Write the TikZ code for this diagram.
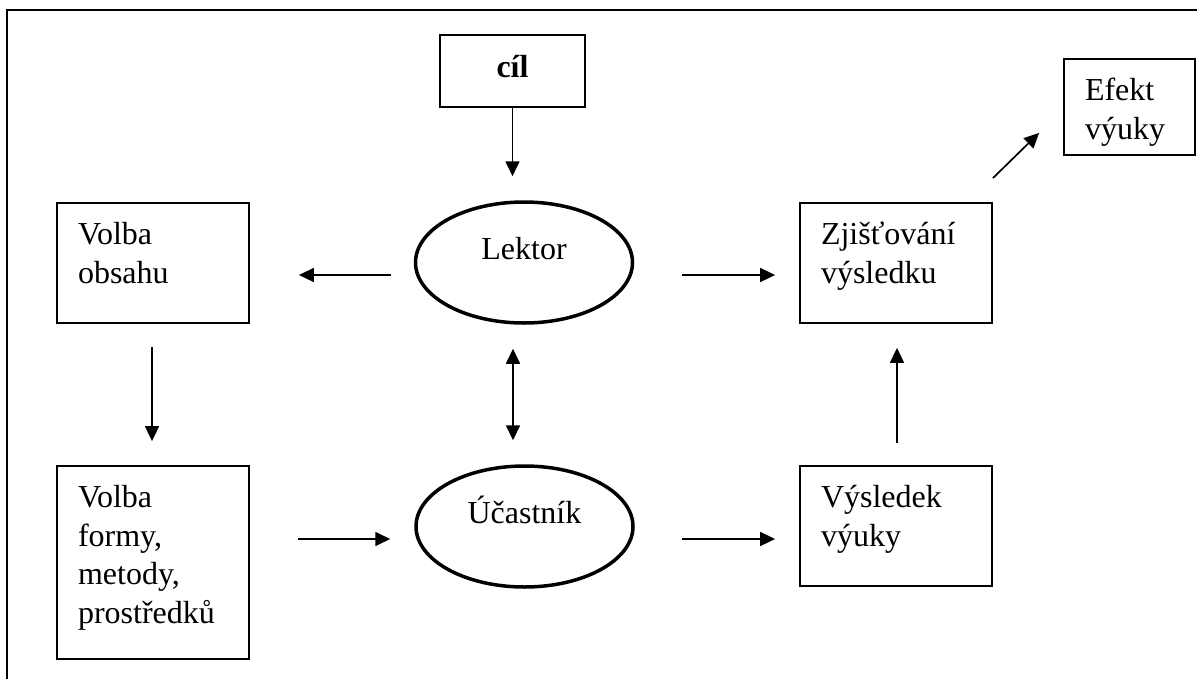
\documentclass[tikz,border=0pt]{standalone}
\usepackage{fontspec}
\setmainfont{Liberation Serif}
\usetikzlibrary{arrows.meta,shapes.geometric}

% multi-line box text: left-aligned, hanging from the top of the box
\newcommand{\boxlines}[3]{\parbox[c][#2][t]{#1}{\vspace*{15pt}\raggedright\leftskip=21pt\relax\strut #3}}

\tikzset{
  txt/.style={font=\fontsize{32}{38.5}\selectfont},
  plainbox/.style={txt, draw, line width=1.8pt, rectangle, inner sep=0pt},
  oval/.style={txt, draw, line width=3.5pt, ellipse, inner sep=0pt,
               minimum width=217pt, minimum height=121pt},
  arr/.style={line width=1.7pt, -{Triangle[length=15pt,width=14pt]}},
  dbl/.style={line width=1.7pt, {Triangle[length=15pt,width=14pt]}-{Triangle[length=15pt,width=14pt]}}
}

\begin{document}
\begin{tikzpicture}[x=1pt,y=-1pt]
\useasboundingbox (0,0) rectangle (1197,678);
\clip (0,0) rectangle (1197,678);
\fill[white] (0,0) rectangle (1197,678);

% outer frame
\draw[line width=1.8pt] (7,10) rectangle (1300,800);

% goal
\node[plainbox, minimum width=145pt, minimum height=72pt] (cil) at (512.5,71)
  {\raisebox{-6pt}[0pt][0pt]{\bfseries cíl}};

% actors
\node[oval] (lektor) at (524,262.5) {\raisebox{3pt}[0pt][0pt]{Lektor}};
\node[oval] (ucast) at (524.5,526.5) {\raisebox{3.5pt}[0pt][0pt]{Účastník}};

% process boxes
\node[plainbox] (obsah) at (153,263) {\boxlines{192pt}{120pt}{Volba\\obsahu}};
\node[plainbox] (forma) at (153,562.5) {\boxlines{192pt}{193pt}{Volba\\formy,\\metody,\\prostředků}};
\node[plainbox] (zjist) at (896,263) {\boxlines{192pt}{120pt}{Zjišťování\\výsledku}};
\node[plainbox] (vysl) at (896,526) {\boxlines{192pt}{120pt}{Výsledek\\výuky}};
\node[plainbox] (efekt) at (1129.5,107) {\boxlines{131pt}{96pt}{Efekt\\výuky}};

% connectors
\draw[arr, shorten >=24pt] (cil.south) -- (cil.south |- lektor.north);
\draw[arr, shorten <=22.5pt, shorten >=49pt]
  ([yshift=-12.5pt]lektor.west) -- ([yshift=-12pt]obsah.east);
\draw[arr, shorten <=47.5pt, shorten >=24pt]
  ([yshift=-12.5pt]lektor.east) -- ([yshift=-12pt]zjist.west);
\draw[arr] ([yshift=24pt]zjist.north east) -- ([xshift=-24pt,yshift=23pt]efekt.south west);
\draw[arr, shorten <=23pt, shorten >=24pt]
  ([xshift=-1pt]obsah.south) -- ([xshift=-1pt]forma.north);
\draw[dbl, shorten <=24pt, shorten >=24pt]
  ([xshift=-11pt]lektor.south) -- ([xshift=-11.5pt]ucast.north);
\draw[arr, shorten <=22pt, shorten >=24pt]
  ([xshift=1pt]vysl.north) -- ([xshift=1pt]zjist.south);
\draw[arr, shorten <=48pt, shorten >=24pt]
  ([yshift=23.5pt]forma.east) -- ([yshift=-12.5pt]ucast.west);
\draw[arr, shorten <=47pt, shorten >=24pt]
  ([yshift=-12.5pt]ucast.east) -- ([yshift=-13pt]vysl.west);
\end{tikzpicture}
\end{document}
